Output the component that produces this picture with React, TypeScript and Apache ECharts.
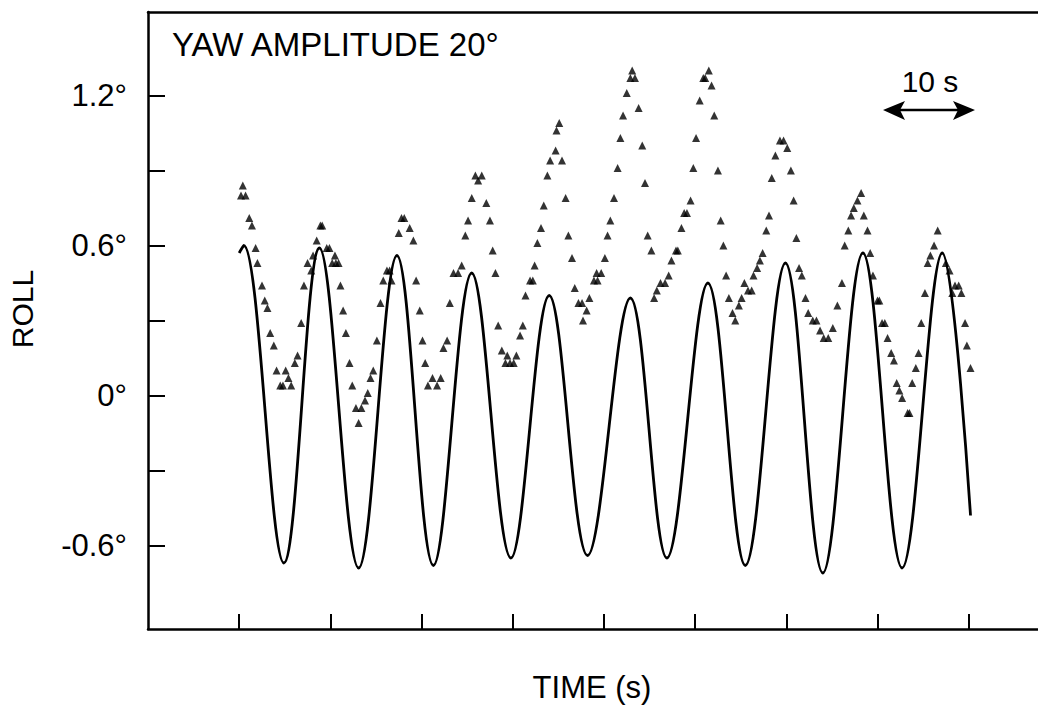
import React, { useEffect, useRef } from "react";
import * as echarts from "echarts";

// Time axis (s): ticks every 10 s, no labels
const timeTicks = [10, 20, 30, 40, 50, 60, 70, 80, 90];
// Roll axis (deg)
const rollTicks = [-0.6, -0.3, 0, 0.3, 0.6, 0.9, 1.2];
const rollLabelValues = [-0.6, 0, 0.6, 1.2];

// Solid curve: start, successive peaks and troughs, end
const curveTime = [
  10.0, 10.5, 14.9, 18.8, 23.1, 27.3, 31.3, 35.5, 39.8, 44.0,
  48.2, 52.9, 56.9, 61.4, 65.5, 69.9, 74.0, 78.4, 82.7, 87.1,
  90.2,
];
const curveRoll = [
  0.57, 0.6, -0.67, 0.59, -0.69, 0.56, -0.68, 0.49, -0.65, 0.4,
  -0.64, 0.39, -0.65, 0.45, -0.68, 0.53, -0.71, 0.57, -0.69, 0.57,
  -0.48,
];

// Triangle samples [time s, roll deg]
const triangleSamples: [number, number][] = [
  [10.4, 0.84], [10.2, 0.8], [10.7, 0.8], [11.1, 0.71], [11.4, 0.68], [11.8, 0.59], [12.0, 0.53], [12.5, 0.44], [12.8, 0.38], [13.1, 0.35],
  [13.4, 0.25], [13.8, 0.2], [14.1, 0.1], [15.1, 0.1], [14.5, 0.04], [14.8, 0.04], [15.7, 0.04], [15.4, 0.07], [16.1, 0.13], [16.4, 0.16],
  [16.8, 0.29], [17.1, 0.44], [17.5, 0.53], [17.9, 0.5], [18.1, 0.56], [18.5, 0.62], [18.9, 0.68], [19.1, 0.68], [19.6, 0.59], [19.9, 0.59],
  [20.5, 0.56], [20.2, 0.53], [20.6, 0.53], [20.9, 0.53], [21.1, 0.44], [21.4, 0.34], [21.7, 0.25], [22.1, 0.13], [22.4, 0.04], [22.8, -0.05],
  [23.4, -0.05], [23.1, -0.11], [23.8, -0.02], [24.1, 0.01], [24.4, 0.07], [24.7, 0.1], [25.1, 0.22], [25.5, 0.37], [25.8, 0.46], [26.2, 0.5],
  [26.5, 0.5], [26.7, 0.46], [27.5, 0.65], [27.8, 0.71], [28.1, 0.71], [28.7, 0.67], [29.1, 0.62], [29.4, 0.46], [29.8, 0.34], [30.1, 0.22],
  [30.4, 0.13], [30.7, 0.04], [31.7, 0.04], [31.2, 0.07], [32.1, 0.07], [32.4, 0.19], [32.8, 0.22], [33.1, 0.37], [33.5, 0.49], [34.0, 0.49],
  [34.4, 0.52], [34.8, 0.64], [35.1, 0.7], [35.5, 0.79], [35.9, 0.88], [36.6, 0.88], [36.2, 0.86], [37.1, 0.77], [37.5, 0.7], [37.8, 0.58],
  [38.1, 0.49], [38.4, 0.28], [38.8, 0.18], [39.4, 0.16], [40.4, 0.16], [39.2, 0.13], [39.7, 0.13], [40.1, 0.13], [40.8, 0.24], [41.1, 0.28],
  [41.4, 0.4], [41.9, 0.46], [42.2, 0.46], [42.4, 0.52], [42.7, 0.61], [43.1, 0.67], [43.4, 0.76], [43.8, 0.88], [44.1, 0.94], [44.7, 0.98],
  [45.4, 0.94], [44.8, 1.06], [45.1, 1.09], [45.8, 0.79], [46.1, 0.64], [46.5, 0.55], [46.8, 0.43], [47.2, 0.37], [47.6, 0.37], [48.1, 0.34],
  [47.7, 0.3], [48.4, 0.39], [48.9, 0.46], [49.3, 0.46], [49.2, 0.49], [49.7, 0.49], [50.1, 0.55], [50.4, 0.64], [50.7, 0.7], [51.1, 0.79],
  [51.5, 0.91], [51.8, 1.03], [52.1, 1.12], [52.5, 1.21], [52.9, 1.27], [53.4, 1.27], [53.1, 1.3], [53.8, 1.15], [54.2, 1.0], [54.5, 0.85],
  [54.8, 0.64], [55.2, 0.58], [55.5, 0.39], [55.8, 0.42], [56.2, 0.45], [56.7, 0.45], [57.1, 0.48], [57.4, 0.54], [57.9, 0.58], [58.1, 0.58],
  [58.5, 0.67], [58.8, 0.73], [59.1, 0.73], [59.5, 0.78], [59.8, 0.91], [60.1, 1.03], [60.5, 1.18], [60.9, 1.27], [61.1, 1.27], [61.5, 1.3],
  [61.8, 1.24], [62.1, 1.12], [62.5, 0.9], [62.8, 0.7], [63.1, 0.6], [63.4, 0.48], [63.7, 0.39], [64.1, 0.33], [64.4, 0.3], [64.8, 0.36],
  [65.1, 0.39], [65.4, 0.45], [65.8, 0.42], [66.2, 0.42], [66.4, 0.48], [66.8, 0.51], [67.1, 0.54], [67.4, 0.57], [67.8, 0.66], [68.1, 0.72],
  [68.4, 0.87], [68.8, 0.96], [69.3, 1.02], [69.7, 1.02], [70.1, 0.99], [70.5, 0.9], [70.8, 0.78], [71.1, 0.63], [71.4, 0.51], [71.7, 0.48],
  [72.1, 0.39], [72.4, 0.33], [72.9, 0.3], [73.3, 0.3], [73.7, 0.26], [74.1, 0.23], [74.6, 0.23], [75.1, 0.27], [75.6, 0.36], [76.1, 0.45],
  [76.4, 0.6], [76.8, 0.66], [77.1, 0.72], [77.4, 0.75], [77.8, 0.78], [78.2, 0.81], [78.5, 0.72], [78.9, 0.66], [79.2, 0.57], [79.5, 0.48],
  [80.0, 0.38], [80.2, 0.38], [80.5, 0.29], [80.8, 0.29], [81.1, 0.23], [81.5, 0.17], [81.8, 0.14], [82.1, 0.05], [82.4, 0.02], [82.7, -0.01],
  [83.3, -0.07], [83.5, -0.07], [83.8, 0.05], [84.2, 0.11], [84.5, 0.17], [84.8, 0.29], [85.2, 0.41], [85.5, 0.53], [85.8, 0.56], [86.2, 0.6],
  [86.6, 0.66], [87.5, 0.53], [87.9, 0.5], [88.5, 0.44], [88.9, 0.44], [88.2, 0.41], [89.2, 0.41], [89.6, 0.29], [89.8, 0.2], [90.2, 0.11],
];

const FONT = '"Liberation Sans", Arial, Helvetica, sans-serif';

export default function App() {
  const ref = useRef<HTMLDivElement>(null);

  useEffect(() => {
    if (!ref.current) return;
    const chart = echarts.init(ref.current, null, { renderer: "svg" });
    const axisLineStyle = { color: "#000", width: 2.5 };
    const textStyle = (text: string, size: number, extra: any = {}) => ({
      text,
      fill: "#000",
      font: `${size}px ${FONT}`,
      ...extra,
    });
    const centered = {
      textAlign: "center",
      align: "center",
      textVerticalAlign: "middle",
      verticalAlign: "middle",
    };

    chart.setOption({
      animation: false,
      backgroundColor: "#fff",
      grid: { left: 148, right: 0, top: 12, bottom: 79, containLabel: false },
      xAxis: [
        {
          type: "value",
          position: "bottom",
          min: 0,
          max: 97.6,
          axisLine: { show: true, onZero: false, lineStyle: axisLineStyle },
          axisTick: {
            show: true,
            inside: true,
            length: 15,
            customValues: timeTicks,
            lineStyle: { color: "#000", width: 2 },
          },
          axisLabel: { show: false },
          splitLine: { show: false },
        },
        {
          type: "value",
          position: "top",
          min: 0,
          max: 97.6,
          axisLine: { show: true, onZero: false, lineStyle: axisLineStyle },
          axisTick: { show: false },
          axisLabel: { show: false },
          splitLine: { show: false },
        },
      ],
      yAxis: {
        type: "value",
        min: -0.934,
        max: 1.534,
        axisLine: { show: true, onZero: false, lineStyle: axisLineStyle },
        axisTick: {
          show: true,
          inside: true,
          length: 17,
          customValues: rollTicks,
          lineStyle: { color: "#000", width: 2 },
        },
        axisLabel: {
          show: true,
          customValues: rollLabelValues,
          margin: 21,
          color: "#000",
          fontSize: 31,
          fontFamily: FONT,
          formatter: (v: number) => (Math.abs(v) < 1e-9 ? "0" : v.toFixed(1)) + "°",
        },
        splitLine: { show: false },
      },
      series: [
        {
          type: "line",
          data: curveTime.map((t, i) => [t, curveRoll[i]]),
          smooth: 0.36,
          symbol: "none",
          lineStyle: { color: "#000", width: 2.8 },
          z: 2,
        },
        {
          type: "scatter",
          data: triangleSamples,
          symbol: "triangle",
          symbolSize: 8,
          itemStyle: { color: "#000" },
          z: 3,
        },
      ],
      graphic: [
        {
          type: "text",
          x: 172,
          y: 44,
          style: textStyle("YAW AMPLITUDE 20°", 33, {
            textAlign: "left",
            align: "left",
            textVerticalAlign: "middle",
            verticalAlign: "middle",
          }),
        },
        {
          type: "text",
          x: 930,
          y: 81,
          style: textStyle("10 s", 30, centered),
        },
        {
          type: "line",
          shape: { x1: 896, y1: 110, x2: 962, y2: 110 },
          style: { stroke: "#000", lineWidth: 2.5 },
        },
        {
          type: "polygon",
          shape: { points: [[883, 110], [905, 101], [900, 110], [905, 120]] },
          style: { fill: "#000" },
        },
        {
          type: "polygon",
          shape: { points: [[975, 110], [953, 101], [958, 110], [953, 120]] },
          style: { fill: "#000" },
        },
        {
          type: "text",
          x: 22.5,
          y: 309,
          rotation: Math.PI / 2,
          style: textStyle("ROLL", 30, centered),
        },
        {
          type: "text",
          x: 592,
          y: 687,
          style: textStyle("TIME (s)", 31, centered),
        },
      ],
    });

    return () => chart.dispose();
  }, []);

  return (
    <div
      ref={ref}
      style={{ position: "fixed", left: 0, top: 0, width: 1038, height: 708, background: "#fff" }}
    />
  );
}
